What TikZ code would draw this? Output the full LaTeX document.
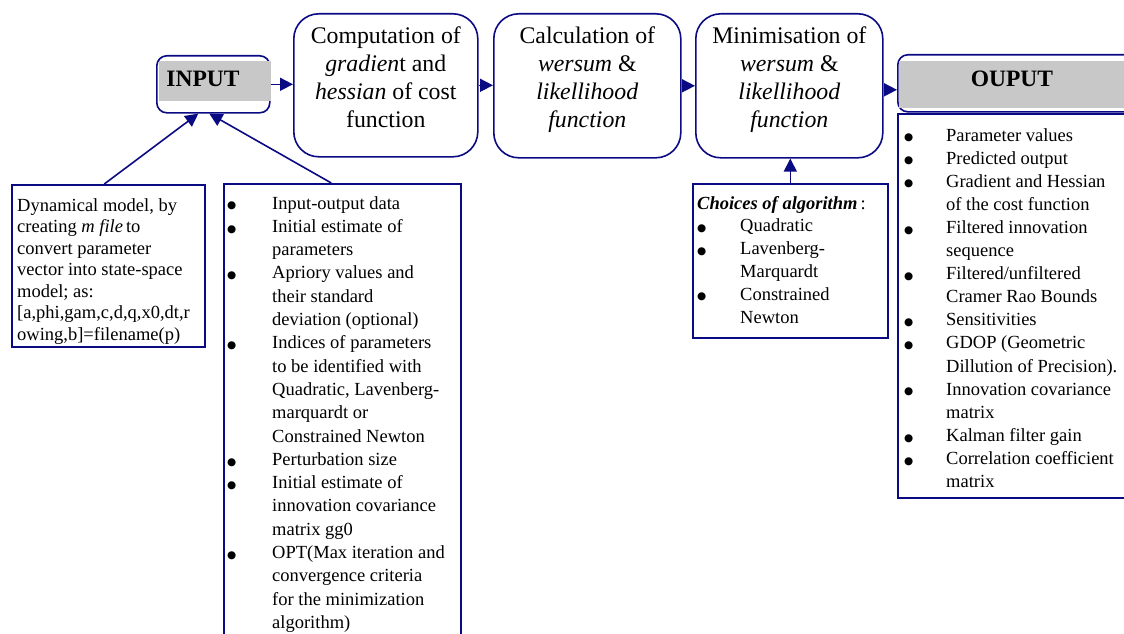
\documentclass[tikz,border=0pt]{standalone}
\usepackage{fontspec}
\setmainfont{Liberation Serif}[ItalicFont={Liberation Serif Italic},BoldFont={Liberation Serif Bold},BoldItalicFont={Liberation Serif Bold Italic}]
\newfontfamily\dejavu{DejaVu Sans}
\usetikzlibrary{arrows.meta,calc}
\definecolor{navyb}{RGB}{10,10,130}
\definecolor{boxgray}{RGB}{200,200,200}
\newcommand\bul{\raisebox{0.3pt}{\dejavu\fontsize{10.5}{10}\selectfont ●}}
\begin{document}
\begin{tikzpicture}[x=1pt,y=-1pt,
  box/.style={draw=navyb, line width=1.6pt, inner sep=0pt, anchor=north west},
  rbox/.style={box, rounded corners=25pt},
  sbox/.style={box, rounded corners=10pt},
  arr/.style={draw=navyb, line width=1.6pt, -{Triangle[length=13pt,width=13pt]}},
  big/.style={font=\fontsize{23.8}{28}\selectfont, align=center, anchor=north, inner sep=0pt},
  head/.style={font=\fontsize{23.5}{28}\selectfont\bfseries},
  small/.style={font=\fontsize{18.5}{23.3}\selectfont, anchor=base west, inner sep=0pt},
]
\useasboundingbox (0,0) rectangle (1124,634);
\clip (0,0) rectangle (1124,634);
% top row
\node[sbox, minimum width=113pt, minimum height=57pt] (inp) at (156,55) {};
\fill[boxgray] (159,61) rectangle (271,101);
\node[head] (inptext) at (203,79) {INPUT};

\node[rbox, minimum width=184pt, minimum height=143pt] (comp) at (293,13) {};
\node[big] (comptext) at ([yshift=-14pt]comp.north)
  {Computation of\\ \textit{gradien}t and\\ \textit{hessian} of cost\\ function};
\node[rbox, minimum width=187pt, minimum height=144pt] (calc) at (493,13) {};
\node[big] (calctext) at ([yshift=-14pt]calc.north)
  {Calculation of\\ \textit{wersum} \&\\ \textit{likellihood}\\ \textit{function}};
\node[rbox, minimum width=187pt, minimum height=144pt] (mini) at (695,13) {};
\node[big] (minitext) at ([yshift=-14pt]mini.north)
  {Minimisation of\\ \textit{wersum} \&\\ \textit{likellihood}\\ \textit{function}};

\node[sbox, minimum width=240pt, minimum height=57pt] (outp) at (897,54) {};
\fill[boxgray] (899,61) rectangle (1130,108);
\node[head] (outptext) at (1012,79) {OUPUT};

% lower boxes
\node[box, minimum width=193pt, minimum height=162pt] (dyn) at (11,184) {};
\node[small] (dyntext) at (17,211) {\fontsize{18.5}{21.5}\selectfont\begin{tabular}[t]{@{}l@{}}
Dynamical model, by\\
creating \textit{m file}\,to\\
convert parameter\\
vector into state-space\\
model; as:\\
{[a,phi,gam,c,d,q,x0,dt,r}\\
owing,b]=filename(p)
\end{tabular}};

\node[box, minimum width=237pt, minimum height=480pt] (inlist) at (223,183) {};
\node[small] (inlisttext) at (227,209) {\begin{tabular}[t]{@{}p{45pt}@{}l@{}}
\bul & Input-output data\\
\bul & Initial estimate of\\
 & parameters\\
\bul & Apriory values and\\
 & their standard\\
 & deviation (optional)\\
\bul & Indices of parameters\\
 & to be identified with\\
 & Quadratic, Lavenberg-\\
 & marquardt or\\
 & Constrained Newton\\
\bul & Perturbation size\\
\bul & Initial estimate of\\
 & innovation covariance\\
 & matrix gg0\\
\bul & OPT(Max iteration and\\
 & convergence criteria\\
 & for the minimization\\
 & algorithm)
\end{tabular}};

\node[box, minimum width=195pt, minimum height=154pt] (choice) at (692,183) {};
\node[small] (choicetext) at (697,209) {\fontsize{18.5}{22.8}\selectfont\begin{tabular}[t]{@{}p{43pt}@{}l@{}}
\multicolumn{2}{@{}l@{}}{\textbf{\textit{Choices of algorithm}}\,:}\\
\bul & Quadratic\\
\bul & Lavenberg-\\
 & Marquardt\\
\bul & Constrained\\
 & Newton
\end{tabular}};

\node[box, minimum width=240pt, minimum height=384pt] (outlist) at (897,113) {};
\node[small] (outlisttext) at (904,141) {\fontsize{18.5}{23.1}\selectfont\begin{tabular}[t]{@{}p{42pt}@{}l@{}}
\bul & Parameter values\\
\bul & Predicted output\\
\bul & Gradient and Hessian\\
 & of the cost function\\
\bul & Filtered innovation\\
 & sequence\\
\bul & Filtered/unfiltered\\
 & Cramer Rao Bounds\\
\bul & Sensitivities\\
\bul & GDOP (Geometric\\
 & Dillution of Precision).\\
\bul & Innovation covariance\\
 & matrix\\
\bul & Kalman filter gain\\
\bul & Correlation coefficient\\
 & matrix
\end{tabular}};

% connectors
\draw[arr] (inp.east) -- (inp.east -| comp.west);
\draw[arr] (comp.east) -- (comp.east -| calc.west);
\draw[arr] (calc.east) -- (calc.east -| mini.west);
\draw[arr] ([yshift=-4pt]mini.east) -- ([yshift=-4pt]mini.east -| outp.west);
\draw[arr] ([xshift=-4pt]dyn.north) -- ([xshift=-15pt]inp.south);
\draw[arr] ([xshift=-11pt]inlist.north) -- ([xshift=-4pt]inp.south);
\draw[arr] (choice.north) -- (choice.north |- mini.south);
\end{tikzpicture}
\end{document}
